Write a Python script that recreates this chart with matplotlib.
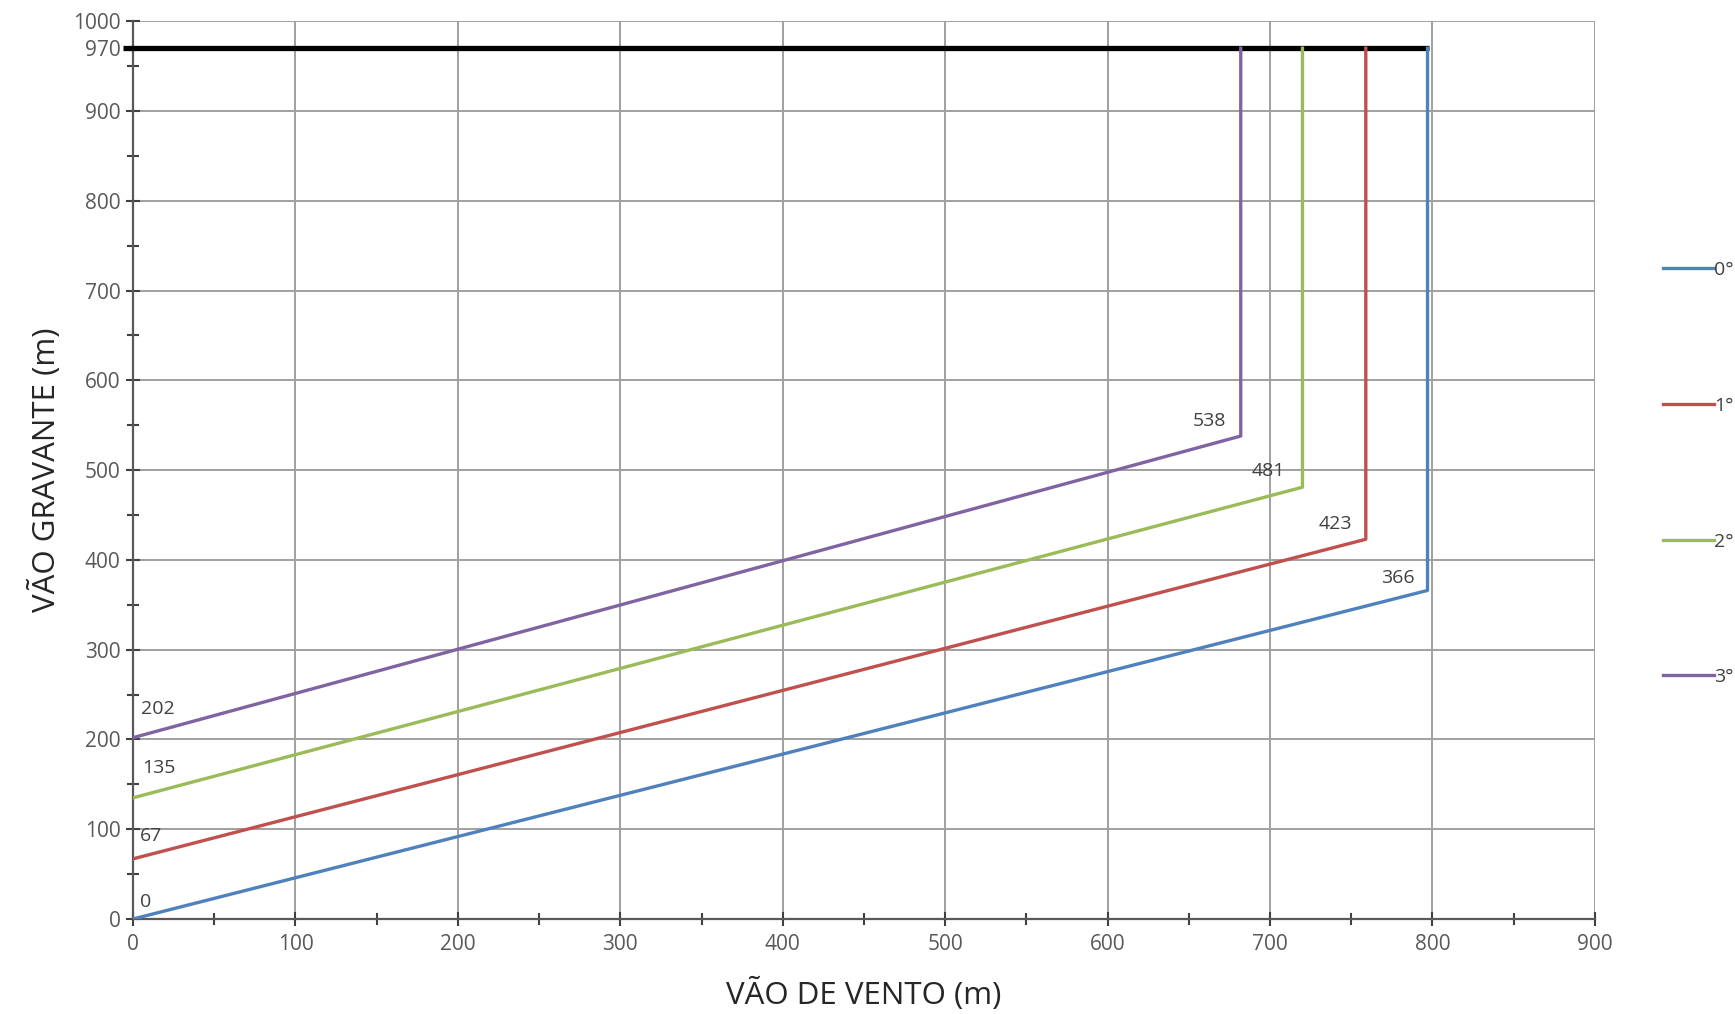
import matplotlib
matplotlib.use("Agg")
import matplotlib.pyplot as plt
from matplotlib.ticker import MultipleLocator

plt.rcParams['font.family'] = ['Open Sans', 'DejaVu Sans']

labels = ['0°', '1°', '2°', '3°']
colors = ['#4F81BD', '#C0504D', '#9BBB59', '#8064A2']
start_y = [0, 67, 135, 202]
knee_x = [797, 759, 720, 682]
knee_y = [366, 423, 481, 538]
top_y = 970
limit_x = [-6, 798]

fig = plt.figure(figsize=(17.35, 10.14), dpi=100)
ax = fig.add_axes([0.0767, 0.0937, 0.8425, 0.8853])

ax.plot(limit_x, [top_y, top_y], color='black', lw=3.8, solid_capstyle='butt', zorder=3, clip_on=False)
for lab, c, y0, xk, yk in zip(labels, colors, start_y, knee_x, knee_y):
    ax.plot([0, xk, xk], [y0, yk, top_y], color=c, lw=2.4, label=lab, zorder=4)

# value annotations
left_pos = [(8, 19), (11, 92), (16, 168), (15, 234)]
right_pos = [(779, 380), (740, 440), (699, 499), (663, 555)]
for (x, y), v in zip(left_pos, start_y):
    ax.text(x, y, str(v), ha='center', va='center', fontsize=14, color='#404040')
for (x, y), v in zip(right_pos, knee_y):
    ax.text(x, y, str(v), ha='center', va='center', fontsize=14, color='#404040')

ax.set_xlim(0, 900)
ax.set_ylim(0, 1000)
ax.xaxis.set_major_locator(MultipleLocator(100))
ax.xaxis.set_minor_locator(MultipleLocator(50))
yt = [0, 100, 200, 300, 400, 500, 600, 700, 800, 900, 970, 1000]
ax.set_yticks(yt)
ax.set_yticklabels([str(v) for v in yt])
ax.yaxis.set_minor_locator(MultipleLocator(50))

ax.grid(True, which='major', color='#A0A0A0', lw=1.4)
ax.set_axisbelow(True)
for gl, v in zip(ax.yaxis.get_gridlines(), yt):
    if v == 970:
        gl.set_visible(False)

for s in ['top', 'right']:
    ax.spines[s].set_visible(False)
for s in ['left', 'bottom']:
    ax.spines[s].set_color('#595959')
    ax.spines[s].set_linewidth(1.6)
ax.tick_params(which='major', direction='inout', length=10, width=1.5, color='#404040',
               labelsize=15, labelcolor='#595959')
ax.tick_params(which='minor', direction='inout', length=8, width=1.5, color='#404040')
ax.tick_params(axis='x', pad=6)
ax.tick_params(axis='y', pad=4)
for t, v in zip(ax.yaxis.get_major_ticks(), yt):
    if v == 970:
        t.tick1line.set_visible(False)

ax.set_xlabel('VÃO DE VENTO (m)', fontsize=22.5, color='#262626', labelpad=16)
ax.set_ylabel('VÃO GRAVANTE (m)', fontsize=22.5, color='#262626', labelpad=8)

leg = ax.legend(loc='upper left', bbox_to_anchor=(0.954, 0.75), bbox_transform=fig.transFigure,
                frameon=False, fontsize=14, handlelength=2.6, handletextpad=0.05,
                labelspacing=6.05, borderaxespad=0)
for t in leg.get_texts():
    t.set_color('#404040')

fig.savefig('out.png', dpi=100, facecolor='white')
